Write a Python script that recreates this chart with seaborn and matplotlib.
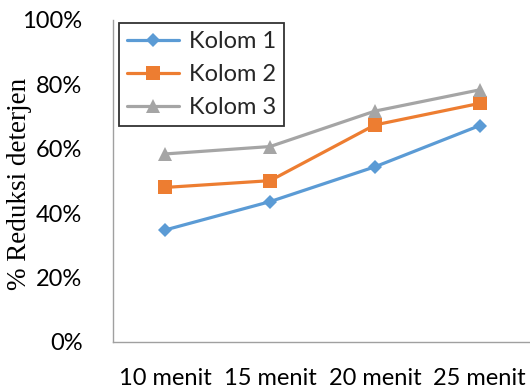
import matplotlib
matplotlib.use("Agg")
import matplotlib.pyplot as plt
import seaborn as sns
import pandas as pd
from matplotlib.ticker import PercentFormatter

categories = ["10 menit", "15 menit", "20 menit", "25 menit"]
kolom_1 = [0.348, 0.436, 0.544, 0.672]
kolom_2 = [0.480, 0.501, 0.674, 0.741]
kolom_3 = [0.584, 0.607, 0.717, 0.783]
series_names = ["Kolom 1", "Kolom 2", "Kolom 3"]
y_ticks = [0, 0.2, 0.4, 0.6, 0.8, 1.0]

rows = []
for name, vals in zip(series_names, [kolom_1, kolom_2, kolom_3]):
    for cat, v in zip(categories, vals):
        rows.append({"Waktu": cat, "Reduksi": v, "Seri": name})
df = pd.DataFrame(rows)

sns.set_theme(style="white")
plt.rcParams["font.family"] = ["Lato", "DejaVu Sans"]

fig = plt.figure(figsize=(5.3, 3.88), dpi=100)
ax = fig.add_axes([0.2132, 0.1186, 0.7906, 0.8299])

palette = {"Kolom 1": "#5B9BD5", "Kolom 2": "#ED7D31", "Kolom 3": "#A5A5A5"}
markers = {"Kolom 1": "D", "Kolom 2": "s", "Kolom 3": "^"}

sns.lineplot(data=df, x="Waktu", y="Reduksi", hue="Seri", style="Seri",
             palette=palette, markers=markers, dashes=False, sort=False,
             linewidth=2.3, markersize=10, markeredgewidth=0, ax=ax)

# Diamond markers are drawn a bit smaller than the others
for line in ax.lines:
    if line.get_marker() == "D":
        line.set_markersize(7.5)

ax.set_xlim(-0.5, 3.5)
ax.set_ylim(0, 1.0)
ax.set_yticks(y_ticks)
ax.yaxis.set_major_formatter(PercentFormatter(1.0, decimals=0))
ax.tick_params(axis="both", length=0, labelsize=17, colors="#000000")
ax.tick_params(axis="y", pad=22)
ax.tick_params(axis="x", pad=19)

ax.set_xlabel("")
ax.set_ylabel("")
fig.text(20 / 530, 0.527, "% Reduksi deterjen", family="Liberation Serif",
         fontsize=19.5, color="#000000", rotation=90, ha="center", va="center")

for side in ["top", "right"]:
    ax.spines[side].set_visible(False)
for side in ["left", "bottom"]:
    ax.spines[side].set_color("#A0A0A0")
    ax.spines[side].set_linewidth(1.0)

handles, labels = ax.get_legend_handles_labels()
for h in handles:
    if h.get_marker() == "D":
        h.set_markersize(7.5)
leg = ax.legend(handles, labels, loc="upper left", bbox_to_anchor=(0.014, 0.99),
                fontsize=17, frameon=True, fancybox=False, edgecolor="#000000",
                handlelength=2.2, handletextpad=0.4, borderpad=0.35,
                labelspacing=0.5, borderaxespad=0)
leg.get_frame().set_linewidth(1.3)

fig.savefig("out.png", dpi=100)
